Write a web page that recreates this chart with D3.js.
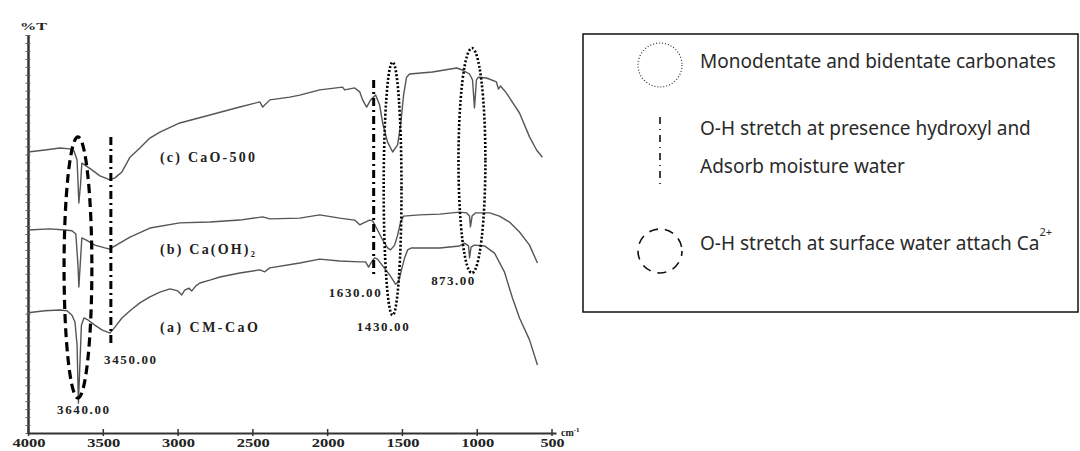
<!DOCTYPE html>
<html>
<head>
<meta charset="utf-8">
<script src="https://cdn.jsdelivr.net/npm/d3@7"></script>
<style>
  html, body { margin: 0; padding: 0; background: #fff; }
  svg { display: block; }
</style>
</head>
<body>
<svg id="chart" width="1080" height="451"></svg>
<script>
// FTIR spectra of three calcium samples: [wavenumber (cm-1), transmittance (%T, stacked offsets)]
const spectrumCaO500 = [
  [4000,70.6],[3887,71.1],[3786,71.6],[3719,71.4],[3693,70.9],[3672,68.6],[3660,57.8],[3649,62.3],
  [3640,67.8],[3619,67.3],[3573,66.1],[3519,64.6],[3452,63.6],[3419,64.1],[3372,65.6],[3318,69.3],
  [3252,71.6],[3185,74.1],[3118,75.6],[2985,77.9],[2784,79.9],[2584,81.9],[2450,83.2],[2431,81.9],
  [2383,83.7],[2250,84.4],[2183,84.9],[2050,86.2],[1897,86.9],[1883,86.2],[1816,86.7],[1782,85.7],
  [1763,83.7],[1736,81.9],[1709,83.7],[1676,84.9],[1649,82.4],[1629,77.9],[1596,73.1],[1562,70.6],
  [1529,72.4],[1509,77.4],[1489,84.9],[1469,89.4],[1449,90.2],[1296,90.7],[1135,91.7],[1096,91.2],
  [1048,90.2],[1028,88.7],[1015,81.7],[1002,88.7],[989,89.4],[934,89.2],[868,88.2],[855,86.4],
  [841,87.2],[801,85.4],[714,80.4],[647,74.4],[600,71.1],[561,69.3]
];
const spectrumCaOH2 = [
  [4000,51.0],[3853,51.3],[3753,51.0],[3706,50.8],[3680,50.0],[3666,42.2],[3660,36.7],[3649,43.5],
  [3640,49.0],[3613,48.5],[3553,47.2],[3486,46.5],[3452,46.2],[3433,46.7],[3318,49.2],[3185,51.5],
  [2985,52.8],[2784,53.0],[2584,53.5],[2431,54.3],[2383,53.8],[2183,54.0],[2050,54.8],[1916,54.0],
  [1816,53.5],[1782,52.3],[1756,52.8],[1716,53.5],[1696,53.3],[1663,51.0],[1629,48.5],[1596,46.5],
  [1576,46.0],[1549,47.2],[1529,49.7],[1509,53.0],[1489,54.5],[1382,54.8],[1248,55.0],[1115,55.5],
  [1068,55.3],[1048,54.5],[1042,51.8],[1031,54.5],[1009,55.3],[914,55.3],[848,54.5],[781,53.0],
  [714,50.5],[647,47.2],[594,42.7]
];
const spectrumCMCaO = [
  [4000,30.2],[3887,30.7],[3786,30.9],[3739,30.7],[3706,29.6],[3686,27.9],[3672,22.1],[3663,7.5],
  [3652,18.3],[3643,27.1],[3626,28.9],[3599,28.4],[3553,27.1],[3506,25.9],[3452,25.1],[3419,26.6],
  [3372,28.9],[3318,30.7],[3252,32.7],[3185,34.2],[3118,35.4],[3051,36.2],[2998,35.7],[2972,34.7],
  [2952,35.9],[2925,36.4],[2905,35.7],[2879,36.9],[2851,37.7],[2784,38.4],[2717,39.2],[2584,40.2],
  [2450,41.0],[2417,40.5],[2383,41.5],[2183,42.7],[2050,43.7],[1916,43.2],[1782,43.0],[1743,43.0],
  [1723,41.7],[1703,43.0],[1683,44.0],[1663,43.7],[1629,42.0],[1582,39.7],[1543,37.4],[1523,37.9],
  [1503,41.0],[1482,44.0],[1462,46.0],[1436,46.5],[1248,46.5],[1115,47.0],[1082,47.7],[1055,47.0],
  [1048,44.0],[1038,46.7],[1015,47.2],[948,47.0],[881,45.2],[815,40.5],[761,33.9],[714,28.9],
  [647,23.4],[594,17.1]
];

const seriesNames = ["(c) CaO-500", "(b) Ca(OH)\u2082", "(a) CM-CaO"];
const seriesLabelAt = [[3118, 68.1], [3118, 45.0], [3118, 25.4]]; // [wavenumber, %T] at label start

const xTickValues = [4000, 3500, 3000, 2500, 2000, 1500, 1000, 500];

// Band markers: ellipses drawn by their wavenumber / %T extents
const dashedBands = [{ from: 3759, to: 3573, top: 74.4, bottom: 8.8 }];
const dottedBands = [
  { from: 1622, to: 1503, top: 93.2, bottom: 29.6 },
  { from: 1122, to: 942, top: 96.7, bottom: 40.2 }
];
const dashDotLines = [
  { at: 3446, top: 74.4, bottom: 21.6 },
  { at: 1689, top: 88.7, bottom: 39.2 }
];
const peakLabels = [
  { text: "3640.00", at: 3632, t: 4.8 },
  { text: "3450.00", at: 3318, t: 17.3 },
  { text: "1630.00", at: 1816, t: 34.2 },
  { text: "1430.00", at: 1629, t: 25.6 },
  { text: "873.00", at: 1161, t: 37.2 }
];

const legendItems = [
  { kind: "dotted", lines: ["Monodentate and bidentate carbonates"] },
  { kind: "dashdot", lines: ["O-H stretch at presence hydroxyl and", "Adsorb moisture water"] },
  { kind: "dashed", lines: ["O-H stretch at surface water attach Ca"], sup: "2+" }
];

const svg = d3.select("#chart");
const x = d3.scaleLinear().domain([4000, 470]).range([28, 556]);
const y = d3.scaleLinear().domain([0, 100]).range([433, 35]);

const serif = "'Liberation Serif', 'Times New Roman', serif";
const sans = "'Noto Sans', 'Open Sans', sans-serif";

// ---- axes ----
const yTicks = d3.range(0, 101, 2);
const yAxisG = svg.append("g").attr("transform", `translate(${x(4000)},0)`);
yAxisG.call(d3.axisLeft(y).tickValues(yTicks).tickSize(2.5).tickSizeOuter(0).tickFormat(""));
yAxisG.append("g").call(d3.axisRight(y).tickValues(yTicks).tickSize(2.5).tickSizeOuter(0).tickFormat(""));
yAxisG.selectAll("path.domain").attr("stroke", "#333").attr("stroke-width", 2);
yAxisG.selectAll(".tick line").attr("stroke", "#666").attr("stroke-width", 1);

const xAxisG = svg.append("g").attr("transform", `translate(0,${y(0)})`);
xAxisG.call(d3.axisBottom(x).tickValues(xTickValues).tickSize(3).tickSizeOuter(0).tickFormat(""));
xAxisG.selectAll("path.domain").attr("stroke", "#333").attr("stroke-width", 2);
xAxisG.selectAll(".tick line").attr("y1", -4).attr("stroke", "#333").attr("stroke-width", 1.5);

svg.append("g").selectAll("text").data(xTickValues).join("text")
  .attr("x", d => x(d) + 1)
  .attr("y", 447)
  .attr("text-anchor", "middle")
  .attr("font-family", serif)
  .attr("font-weight", "bold")
  .attr("font-size", 12)
  .attr("fill", "#222")
  .attr("textLength", d => d >= 1000 ? 33 : 24)
  .attr("lengthAdjust", "spacingAndGlyphs")
  .text(d => d);

svg.append("text")
  .attr("x", x(4000) - 8).attr("y", 30)
  .attr("font-family", serif).attr("font-weight", "bold").attr("font-size", 11)
  .attr("fill", "#222")
  .attr("textLength", 27).attr("lengthAdjust", "spacingAndGlyphs")
  .text("%T");

const unit = svg.append("text")
  .attr("x", x(470) + 5).attr("y", 436)
  .attr("font-family", serif).attr("font-weight", "bold").attr("font-size", 10)
  .attr("fill", "#222");
unit.append("tspan").text("cm");
unit.append("tspan").attr("dy", -4).attr("font-size", 7).text("-1");

// ---- spectra ----
const line = d3.line().x(d => x(d[0])).y(d => y(d[1]));
[spectrumCaO500, spectrumCaOH2, spectrumCMCaO].forEach(s => {
  svg.append("path")
    .datum(s)
    .attr("d", line)
    .attr("fill", "none")
    .attr("stroke", "#555")
    .attr("stroke-width", 1.4)
    .attr("stroke-linejoin", "round");
});

svg.append("g").selectAll("text").data(seriesNames).join("text")
  .attr("x", (d, i) => x(seriesLabelAt[i][0]))
  .attr("y", (d, i) => y(seriesLabelAt[i][1]))
  .attr("font-family", serif)
  .attr("font-weight", "bold")
  .attr("font-size", 14)
  .attr("fill", "#222")
  .attr("textLength", (d, i) => i === 2 ? 98 : 95)
  .attr("lengthAdjust", "spacing")
  .text(d => d);

// ---- band markers ----
function ellipse(g, b) {
  return g.append("ellipse")
    .attr("cx", (x(b.from) + x(b.to)) / 2)
    .attr("cy", (y(b.top) + y(b.bottom)) / 2)
    .attr("rx", Math.abs(x(b.to) - x(b.from)) / 2)
    .attr("ry", Math.abs(y(b.bottom) - y(b.top)) / 2)
    .attr("fill", "none")
    .attr("stroke", "#000");
}
const marks = svg.append("g");
dashedBands.forEach(b => ellipse(marks, b).attr("stroke-width", 3.2).attr("stroke-dasharray", "9 5"));
dottedBands.forEach(b => ellipse(marks, b).attr("stroke-width", 2.6).attr("stroke-dasharray", "2 2"));
dashDotLines.forEach(l => {
  marks.append("line")
    .attr("x1", x(l.at)).attr("x2", x(l.at))
    .attr("y1", y(l.top)).attr("y2", y(l.bottom))
    .attr("stroke", "#000").attr("stroke-width", 3)
    .attr("stroke-dasharray", "8 4 2 4");
});

svg.append("g").selectAll("text").data(peakLabels).join("text")
  .attr("x", d => x(d.at))
  .attr("y", d => y(d.t))
  .attr("text-anchor", "middle")
  .attr("font-family", serif)
  .attr("font-weight", "bold")
  .attr("font-size", 13)
  .attr("fill", "#222")
  .attr("textLength", d => d.text.length === 7 ? 52 : 43)
  .attr("lengthAdjust", "spacing")
  .text(d => d.text);

// ---- legend ----
const legend = svg.append("g");
legend.append("rect")
  .attr("x", 583).attr("y", 34).attr("width", 495).attr("height", 278)
  .attr("fill", "#fff").attr("stroke", "#111").attr("stroke-width", 1.5);

const symX = 660, textX = 700;
const rowBaselines = [[68], [135, 173], [250]];
legendItems.forEach((item, i) => {
  const base = rowBaselines[i];
  if (item.kind === "dotted") {
    legend.append("circle").attr("cx", symX).attr("cy", base[0] - 3).attr("r", 22)
      .attr("fill", "none").attr("stroke", "#333").attr("stroke-width", 1.2)
      .attr("stroke-dasharray", "1 2");
  } else if (item.kind === "dashed") {
    legend.append("circle").attr("cx", symX).attr("cy", base[0] + 1).attr("r", 22)
      .attr("fill", "none").attr("stroke", "#111").attr("stroke-width", 1.6)
      .attr("stroke-dasharray", "9 7").attr("stroke-dashoffset", 4);
  } else {
    legend.append("line").attr("x1", symX).attr("x2", symX)
      .attr("y1", base[0] - 18).attr("y2", base[1] + 15)
      .attr("stroke", "#111").attr("stroke-width", 1.6)
      .attr("stroke-dasharray", "7 5 1 5");
  }
  item.lines.forEach((ln, j) => {
    const t = legend.append("text")
      .attr("x", textX).attr("y", base[j])
      .attr("font-family", sans).attr("font-size", 19)
      .attr("fill", "#2a2a2a")
      .text(ln);
    if (item.sup && j === item.lines.length - 1) {
      t.append("tspan").attr("dy", -14).attr("font-size", 11).text(item.sup);
    }
  });
});
</script>
</body>
</html>
